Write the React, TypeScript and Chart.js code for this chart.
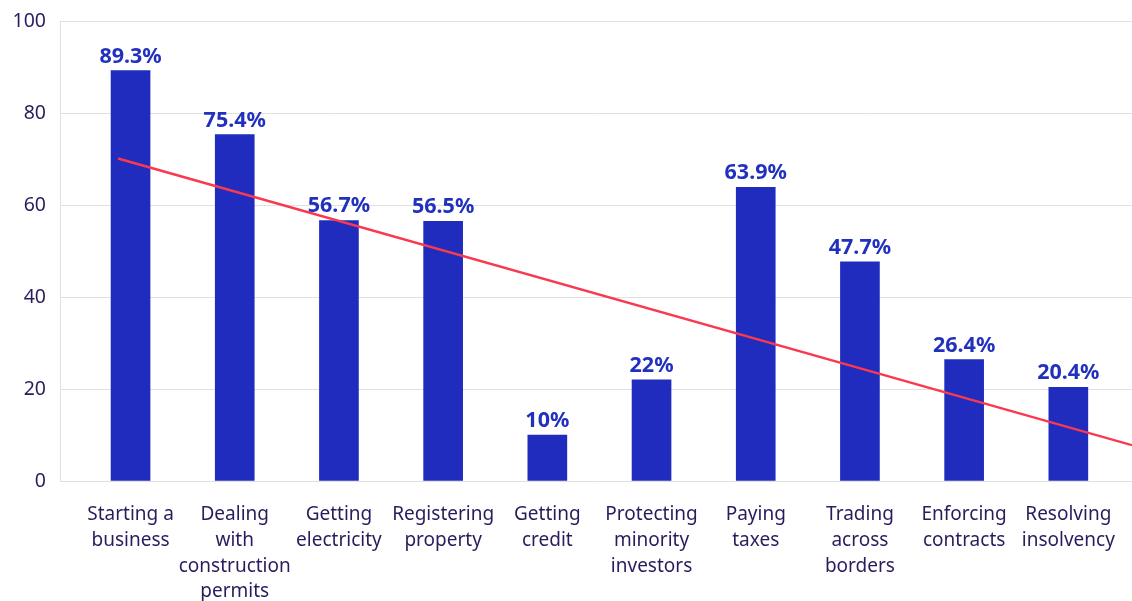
import React, { useEffect, useRef } from "react";
import { Chart, registerables } from "chart.js";

Chart.register(...registerables);

const categories: string[][] = [
  ["Starting a", "business"],
  ["Dealing", "with", "construction", "permits"],
  ["Getting", "electricity"],
  ["Registering", "property"],
  ["Getting", "credit"],
  ["Protecting", "minority", "investors"],
  ["Paying", "taxes"],
  ["Trading", "across", "borders"],
  ["Enforcing", "contracts"],
  ["Resolving", "insolvency"],
];
const values = [89.3, 75.4, 56.7, 56.5, 10, 22, 63.9, 47.7, 26.4, 20.4];
const trendX = [-0.12, 9.61];
const trendY = [70.2, 7.8];
const yTicks = [0, 20, 40, 60, 80, 100];

const BAR = "#1f2cbd";
const LABEL = "#2231bd";
const TEXT = "#2b1b5c";
const GRID = "#e0e0e0";
const TREND = "#f8394f";
const FONT = "'Noto Sans', 'Open Sans', sans-serif";

const valueLabels = {
  id: "valueLabels",
  afterDatasetsDraw(chart: any) {
    const meta = chart.getDatasetMeta(1);
    const ctx = chart.ctx;
    ctx.save();
    ctx.font = `bold 21.5px ${FONT}`;
    ctx.fillStyle = LABEL;
    ctx.textAlign = "center";
    ctx.textBaseline = "alphabetic";
    meta.data.forEach((el: any, i: number) => {
      ctx.fillText(`${values[i]}%`, el.x, el.y - 8);
    });
    ctx.restore();
  },
};

export default function App() {
  const ref = useRef<HTMLCanvasElement | null>(null);
  useEffect(() => {
    document.body.style.margin = "0";
    const canvas = ref.current!;
    const chart = new Chart(canvas, {
      type: "bar",
      data: {
        datasets: [
          {
            type: "line",
            data: trendX.map((x, i) => ({ x, y: trendY[i] })),
            borderColor: TREND,
            borderWidth: 2.5,
            pointRadius: 0,
            fill: false,
            order: 0,
          } as any,
          {
            type: "bar",
            data: values.map((v, i) => ({ x: i, y: v })),
            backgroundColor: BAR,
            barThickness: 39,
            order: 1,
          } as any,
        ],
      },
      options: {
        responsive: false,
        animation: false,
        layout: { padding: { top: 21.5, left: 0, right: 0, bottom: 0 } },
        plugins: { legend: { display: false }, tooltip: { enabled: false } },
        scales: {
          x: {
            type: "linear",
            offset: false,
            min: -0.677,
            max: 9.611,
            grid: { display: false, drawTicks: false, offset: false },
            border: { display: false },
            afterBuildTicks: (s: any) => {
              s.ticks = categories.map((_, i) => ({ value: i }));
            },
            afterFit: (s: any) => {
              s.height = 120;
              s.paddingLeft = 0;
              s.paddingRight = 0;
            },
            ticks: {
              autoSkip: false,
              maxRotation: 0,
              minRotation: 0,
              padding: 21,
              color: TEXT,
              font: { family: FONT, size: 19, lineHeight: 1.35 },
              callback: (_v: any, idx: number) => categories[idx],
            },
          },
          y: {
            type: "linear",
            min: 0,
            max: 100,
            grid: { color: GRID, drawTicks: false, lineWidth: 1 },
            border: { display: true, color: GRID },
            afterBuildTicks: (s: any) => {
              s.ticks = yTicks.map((v) => ({ value: v }));
            },
            afterFit: (s: any) => {
              s.width = 60;
              s.paddingTop = 0;
              s.paddingBottom = 0;
            },
            ticks: {
              padding: 14,
              color: TEXT,
              font: { family: FONT, size: 19.5 },
            },
          },
        },
      } as any,
      plugins: [valueLabels],
    });
    return () => chart.destroy();
  }, []);
  return (
    <div style={{ width: 1132, height: 601 }}>
      <canvas ref={ref} width={1132} height={601} style={{ display: "block" }} />
    </div>
  );
}
